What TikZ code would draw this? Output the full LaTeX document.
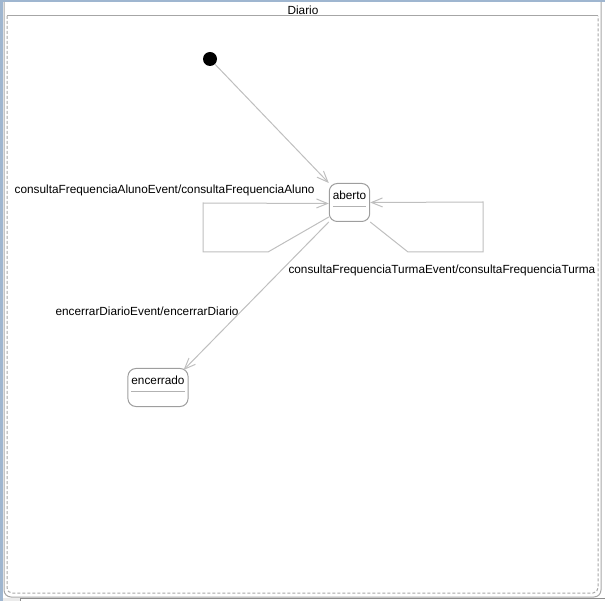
\documentclass[tikz,border=0pt]{standalone}
\usepackage{fontspec}
\setmainfont{Liberation Sans}
\usetikzlibrary{arrows.meta}
\definecolor{chrome}{HTML}{9FB6D0}

\begin{document}
\begin{tikzpicture}[x=1pt,y=-1pt,line width=1pt,font=\fontsize{11.8}{14}\selectfont]
\tikzset{
  st/.style={draw=black!38,rounded corners=8pt,inner xsep=3.5pt,inner ysep=4pt,text height=12pt,text depth=18pt,anchor=north},
  tr/.style={draw=black!25,-{Straight Barb[length=11pt,width=9pt]}},
  frame/.style={draw=black!35},
  lbl/.style={inner sep=0pt},
}
\newcommand\sepline[1]{
  \draw[black!30] ([xshift=4pt,yshift=15pt]#1.south west) -- ([xshift=-4pt,yshift=15pt]#1.south east);
}
\useasboundingbox (0,0) rectangle (605,601);
% window chrome
\fill[chrome] (0,0) rectangle (605,2);
\fill[chrome] (0,0) rectangle (3,601);
\fill[black!8] (3,598) rectangle (20,601);
\draw[black!45] (20,601) -- (20,598.5) -- (605,598.5);

% region Diario
\draw[frame] (4,2) [rounded corners=7pt] -- (4,597) -- (601,597) -- (601,2);
\draw[frame] (7,16) -- (598,16);
\draw[frame,dash pattern=on 3pt off 2pt] (7,16) [rounded corners=5pt] -- (7,593) -- (598,593) -- (598,16);
\node (title) at (303,10) {Diario};

% states
\node[circle,fill=black,inner sep=0pt,minimum size=14pt] (init) at (210,59) {};
\node[st] (aberto) at (349.5,183) {aberto};
\node[st] (encerrado) at (158,368) {encerrado};
\sepline{aberto}
\sepline{encerrado}

% transitions
\draw[tr] (init) -- (aberto.north west);
\draw[tr] ([yshift=5pt]aberto.south west) -- (268,252) -- (203,252) -- (203,203) -- ([yshift=-1pt]aberto.west);
\draw[tr] (aberto.south east) -- (408,252) -- (483,252) -- (483,202) -- (aberto.east);
\draw[tr] (aberto.south west) -- ([xshift=-5pt,yshift=-2pt]encerrado.north east);

\node[lbl,anchor=east] (lblaluno) at (315,190) {consultaFrequenciaAlunoEvent/consultaFrequenciaAluno};
\node[lbl,anchor=west] (lblturma) at (288,270) {consultaFrequenciaTurmaEvent/consultaFrequenciaTurma};
\node[lbl,anchor=west] (lblencerrar) at (55,311) {encerrarDiarioEvent/encerrarDiario};
\end{tikzpicture}
\end{document}
